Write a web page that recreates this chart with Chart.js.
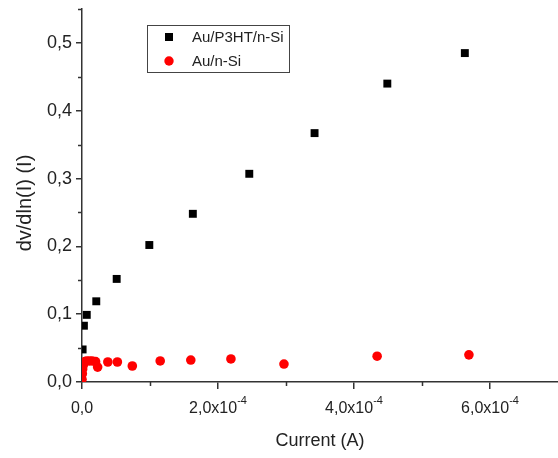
<!DOCTYPE html>
<html>
<head>
<meta charset="utf-8">
<script src="https://cdn.jsdelivr.net/npm/chart.js@4"></script>
<style>
  body { margin: 0; background: #fff; }
  #wrap { width: 558px; height: 458px; position: relative; }
</style>
</head>
<body>
<div id="wrap"><canvas id="dvChart"></canvas></div>
<script>
// ===== data =====
const p3htLabel = 'Au/P3HT/n-Si';
const p3htX = [0.9e-6, 2.8e-6, 7e-6, 2.1e-5, 5.1e-5, 9.9e-5, 1.63e-4, 2.46e-4, 3.42e-4, 4.49e-4, 5.63e-4];
const p3htY = [0.048, 0.083, 0.099, 0.119, 0.152, 0.202, 0.248, 0.307, 0.367, 0.440, 0.485];

const siLabel = 'Au/n-Si';
const siX = [0, 0.5e-6, 1e-6, 2e-6, 4e-6, 7e-6, 1.1e-5, 1.5e-5, 2e-5, 2.3e-5, 3.8e-5, 5.2e-5, 7.4e-5, 1.15e-4, 1.6e-4, 2.19e-4, 2.97e-4, 4.34e-4, 5.69e-4];
const siY = [0.004, 0.012, 0.019, 0.025, 0.030, 0.031, 0.031, 0.031, 0.030, 0.022, 0.0295, 0.0295, 0.0236, 0.031, 0.0324, 0.034, 0.0265, 0.038, 0.040];

const xTickVals = [0, 2e-4, 4e-4, 6e-4];
const xMinorVals = [1e-4, 3e-4, 5e-4];
const yMinorVals = [0.05, 0.15, 0.25, 0.35, 0.45, 0.55];

const axisColor = '#333';
const fontFamily = "'Liberation Sans', Arial, sans-serif";

function toPoints(xs, ys) {
  return xs.map((x, i) => ({ x: x, y: ys[i] }));
}

// minor ticks, x labels with exponent, axis titles and the boxed legend
const decorPlugin = {
  id: 'decor',
  afterDraw(chart) {
    const ctx = chart.ctx;
    const xs = chart.scales.x;
    const ys = chart.scales.y;
    const area = chart.chartArea;
    ctx.save();
    ctx.strokeStyle = axisColor;
    ctx.lineWidth = 1.5;

    // minor ticks
    xMinorVals.forEach(v => {
      const px = Math.round(xs.getPixelForValue(v)) + 0.5;
      ctx.beginPath();
      ctx.moveTo(px, area.bottom);
      ctx.lineTo(px, area.bottom + 4);
      ctx.stroke();
    });
    yMinorVals.forEach(v => {
      const py = Math.round(ys.getPixelForValue(v)) + 0.5;
      ctx.beginPath();
      ctx.moveTo(area.left, py);
      ctx.lineTo(area.left - 4, py);
      ctx.stroke();
    });

    // x tick labels, "2,0x10" with superscript -4
    ctx.fillStyle = '#222';
    ctx.textBaseline = 'middle';
    ctx.textAlign = 'left';
    const mainFont = '16px ' + fontFamily;
    const supFont = '11px ' + fontFamily;
    xTickVals.forEach(v => {
      const px = xs.getPixelForValue(v);
      if (v === 0) {
        ctx.font = mainFont;
        ctx.textAlign = 'center';
        ctx.fillText('0,0', px, 409);
        ctx.textAlign = 'left';
        return;
      }
      const main = (v * 1e4).toFixed(1).replace('.', ',') + 'x10';
      const sup = '-4';
      ctx.font = mainFont;
      const w1 = ctx.measureText(main).width;
      ctx.font = supFont;
      const w2 = ctx.measureText(sup).width;
      const start = px - (w1 + w2) / 2;
      ctx.font = mainFont;
      ctx.fillText(main, start, 409);
      ctx.font = supFont;
      ctx.fillText(sup, start + w1, 401);
    });

    // axis titles
    ctx.font = '18px ' + fontFamily;
    ctx.textAlign = 'center';
    ctx.fillText('Current (A)', (area.left + area.right) / 2, 441);
    ctx.save();
    ctx.translate(25, 203);
    ctx.rotate(-Math.PI / 2);
    ctx.font = '20px ' + fontFamily;
    ctx.fillText('dv/dln(I) (I)', 0, 0);
    ctx.restore();

    // legend box
    ctx.lineWidth = 1;
    ctx.strokeStyle = '#444';
    ctx.strokeRect(147.5, 25.5, 142, 47);
    const entries = chart.data.datasets;
    ctx.font = '15px ' + fontFamily;
    ctx.textAlign = 'left';
    entries.forEach((ds, i) => {
      const cy = 37 + i * 24;
      ctx.fillStyle = ds.backgroundColor;
      ctx.beginPath();
      if (ds.pointStyle === 'rect') {
        ctx.rect(165, cy - 4, 8, 8);
      } else {
        ctx.arc(169, cy, 4.7, 0, 2 * Math.PI);
      }
      ctx.fill();
      ctx.fillStyle = '#222';
      ctx.fillText(ds.label, 192, cy + 1);
    });
    ctx.restore();
  }
};

const dvElem = document.getElementById('dvChart');
if (dvElem) {
  const dvCtx = dvElem.getContext('2d');
  const dvChart = new Chart(dvCtx, {
    type: 'scatter',
    data: {
      datasets: [{
        label: p3htLabel,
        data: toPoints(p3htX, p3htY),
        pointStyle: 'rect',
        pointRadius: 5.6,
        backgroundColor: '#000',
        borderColor: '#000',
        borderWidth: 0
      }, {
        label: siLabel,
        data: toPoints(siX, siY),
        pointStyle: 'circle',
        pointRadius: 4.8,
        backgroundColor: '#ff0000',
        borderColor: '#ff0000',
        borderWidth: 0
      }]
    },
    options: {
      responsive: true,
      maintainAspectRatio: false,
      animation: false,
      layout: { autoPadding: false, padding: { top: 9, right: 0, left: 0, bottom: 0 } },
      plugins: {
        legend: { display: false },
        tooltip: { enabled: false }
      },
      scales: {
        x: {
          type: 'linear',
          min: 0,
          max: 7e-4,
          afterFit(scale) {
            scale.height = 76;
            scale.paddingLeft = 0;
            scale.paddingRight = 0;
          },
          border: { display: true, color: axisColor, width: 1.5 },
          grid: { drawOnChartArea: false, drawTicks: true, tickLength: 7, color: axisColor, lineWidth: 1.5 },
          ticks: { stepSize: 2e-4, includeBounds: false, autoSkip: false, maxRotation: 0, callback: () => '' }
        },
        y: {
          type: 'linear',
          min: 0,
          max: 0.55,
          afterFit(scale) {
            scale.width = 82;
            scale.paddingTop = 0;
            scale.paddingBottom = 0;
          },
          border: { display: true, color: axisColor, width: 1.5 },
          grid: { drawOnChartArea: false, drawTicks: true, tickLength: 6, color: axisColor, lineWidth: 1.5 },
          ticks: {
            stepSize: 0.1,
            includeBounds: false,
            padding: 4,
            color: '#222',
            font: { family: fontFamily, size: 18 },
            callback: v => v.toFixed(1).replace('.', ',')
          }
        }
      }
    },
    plugins: [decorPlugin]
  });
}
</script>
</body>
</html>
